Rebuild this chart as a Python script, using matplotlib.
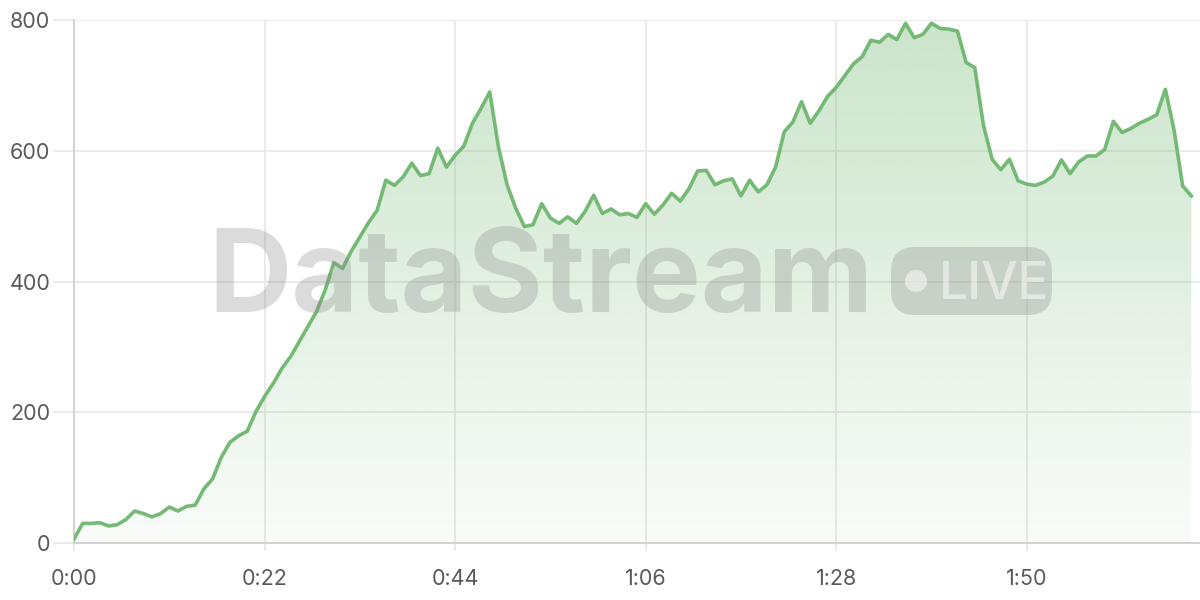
import numpy as np
import matplotlib
matplotlib.use("Agg")
import matplotlib.pyplot as plt
from matplotlib.patches import FancyBboxPatch, Circle, Polygon
from matplotlib.transforms import IdentityTransform

# values, one per step
values = [6, 30, 30, 31, 26, 28, 36, 49, 45, 40,
          45, 55, 49, 56, 58, 83, 98, 131, 154, 164,
          171, 201, 224, 244, 267, 285, 308, 331, 354, 387,
          429, 420, 446, 468, 490, 509, 555, 547, 560, 581,
          562, 565, 604, 575, 593, 607, 642, 665, 690, 606,
          548, 512, 484, 487, 519, 497, 489, 499, 489, 507,
          532, 504, 511, 502, 504, 498, 519, 503, 517, 535,
          523, 542, 569, 570, 548, 554, 557, 531, 555, 537,
          548, 575, 629, 644, 675, 642, 661, 683, 697, 715,
          733, 744, 769, 766, 778, 770, 795, 773, 778, 795,
          787, 786, 783, 735, 727, 639, 587, 571, 587, 554,
          549, 547, 552, 561, 586, 565, 583, 592, 592, 602,
          645, 628, 634, 642, 648, 655, 694, 632, 546, 531]
steps = np.arange(len(values))
x_ticks = [0, 22, 44, 66, 88, 110]
x_labels = ["0:00", "0:22", "0:44", "1:06", "1:28", "1:50"]
y_ticks = [0, 200, 400, 600, 800]

line_color = "#74b974"
grid_color = "#e6e6e6"
text_color = "#5a5a5a"

plt.rcParams['font.family'] = ['Inter', 'DejaVu Sans']

fig = plt.figure(figsize=(12, 6), dpi=100)
ax = fig.add_axes([74 / 1200, 57 / 600, 1 - 74 / 1200, 523 / 600])

ax.set_xlim(0, 130)
ax.set_ylim(0, 800)

# gradient fill under the line
grad = np.linspace(0.04, 0.38, 256).reshape(-1, 1)
rgba = np.zeros((256, 1, 4))
rgba[..., 0] = 0x74 / 255
rgba[..., 1] = 0xb9 / 255
rgba[..., 2] = 0x74 / 255
rgba[..., 3] = grad
img = ax.imshow(rgba, extent=[0, 130, 0, 800], origin='lower', aspect='auto', zorder=1)
verts = np.column_stack([np.r_[steps[0], steps, steps[-1]], np.r_[0, values, 0]])
clip = Polygon(verts, closed=True, transform=ax.transData, facecolor='none', edgecolor='none')
ax.add_patch(clip)
img.set_clip_path(clip)

ax.plot(steps, values, color=line_color, lw=2.6, zorder=4, solid_joinstyle='round')

ax.set_xticks(x_ticks)
ax.set_xticklabels(x_labels)
ax.set_yticks(y_ticks)
ax.grid(True, color=grid_color, lw=1.2, zorder=0)
ax.set_axisbelow(True)
ax.tick_params(axis='x', length=6, color=grid_color, width=1.2, labelsize=15.5,
               labelcolor=text_color, pad=13)
ax.tick_params(axis='y', length=15, color=grid_color, width=1.2, labelsize=15.5,
               labelcolor=text_color, pad=2)
for side in ['top', 'right']:
    ax.spines[side].set_visible(False)
ax.spines['left'].set_color('#cccccc')
ax.spines['bottom'].set_color('#cccccc')
ax.spines['left'].set_linewidth(1.2)
ax.spines['bottom'].set_linewidth(1.2)

# watermark
fig.text(541 / 1200, 1 - 312 / 600, "DataStream", ha='center', va='baseline',
         fontsize=83, fontweight='bold', color='#8a8a8a', alpha=0.3, zorder=10)
badge = FancyBboxPatch((891, 285), 161, 68, boxstyle="round,pad=0,rounding_size=24",
                       transform=IdentityTransform(), facecolor='#8a8a8a', alpha=0.3,
                       edgecolor='none', zorder=10)
fig.patches.append(badge)
fig.patches.append(Circle((916, 319), 11, transform=IdentityTransform(),
                          facecolor='white', alpha=0.5, edgecolor='none', zorder=11))
fig.text(939 / 1200, 301 / 600, "LIVE", ha='left', va='baseline', fontsize=37,
         fontweight='medium', color='white', alpha=0.5, zorder=11)

fig.savefig("out.png", dpi=100)
